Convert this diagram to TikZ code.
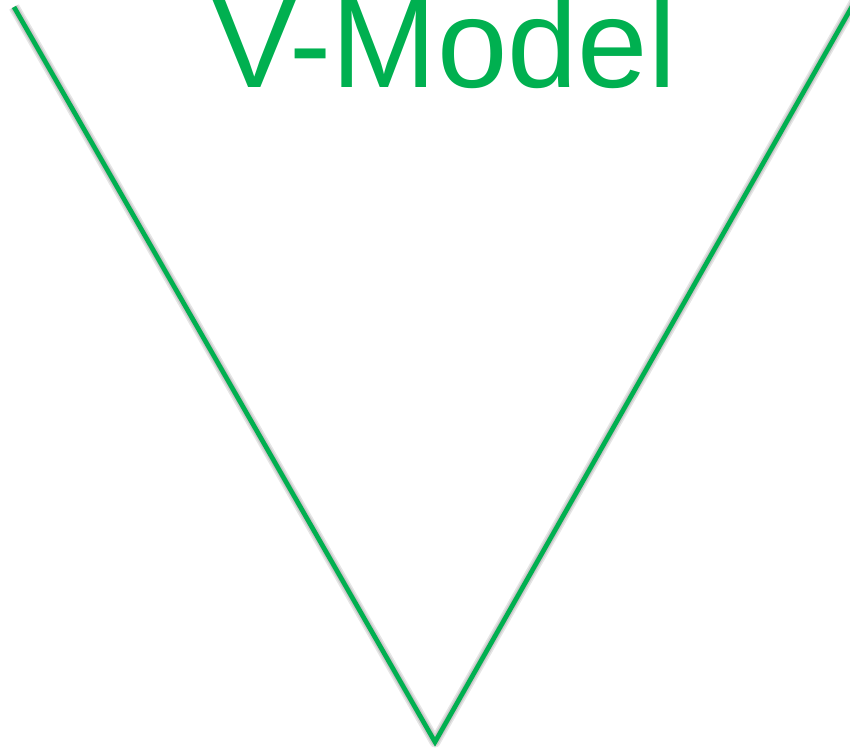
\documentclass[tikz,border=0pt]{standalone}
\usepackage{fontspec}
\setmainfont{Liberation Sans}
\definecolor{vgreen}{HTML}{00B050}
\begin{document}
\begin{tikzpicture}[x=1pt,y=1pt,
  vline/.style={draw=vgreen,line width=4.6pt,line join=miter},
  vshadow/.style={draw=black,line width=#1,opacity=0.10,line join=round}]
\useasboundingbox (0,0) rectangle (850,750);
\clip (0,0) rectangle (850,750);
\coordinate (tl) at (14,743);
\coordinate (bot) at (435,8);
\coordinate (tr) at (855,748.8);
% soft shadow
\begin{scope}[shift={(2.5,-2.5)}]
  \draw[vshadow=11pt] (tl) -- (bot) -- (tr);
  \draw[vshadow=8pt] (tl) -- (bot) -- (tr);
  \draw[vshadow=5.5pt] (tl) -- (bot) -- (tr);
\end{scope}
\draw[vline] (tl) -- (bot) -- (tr);
\node[anchor=base west,inner sep=0pt,text=vgreen,font=\fontsize{126.5}{126.5}\selectfont] (title) at (212,662) {V-Model};
\end{tikzpicture}
\end{document}
